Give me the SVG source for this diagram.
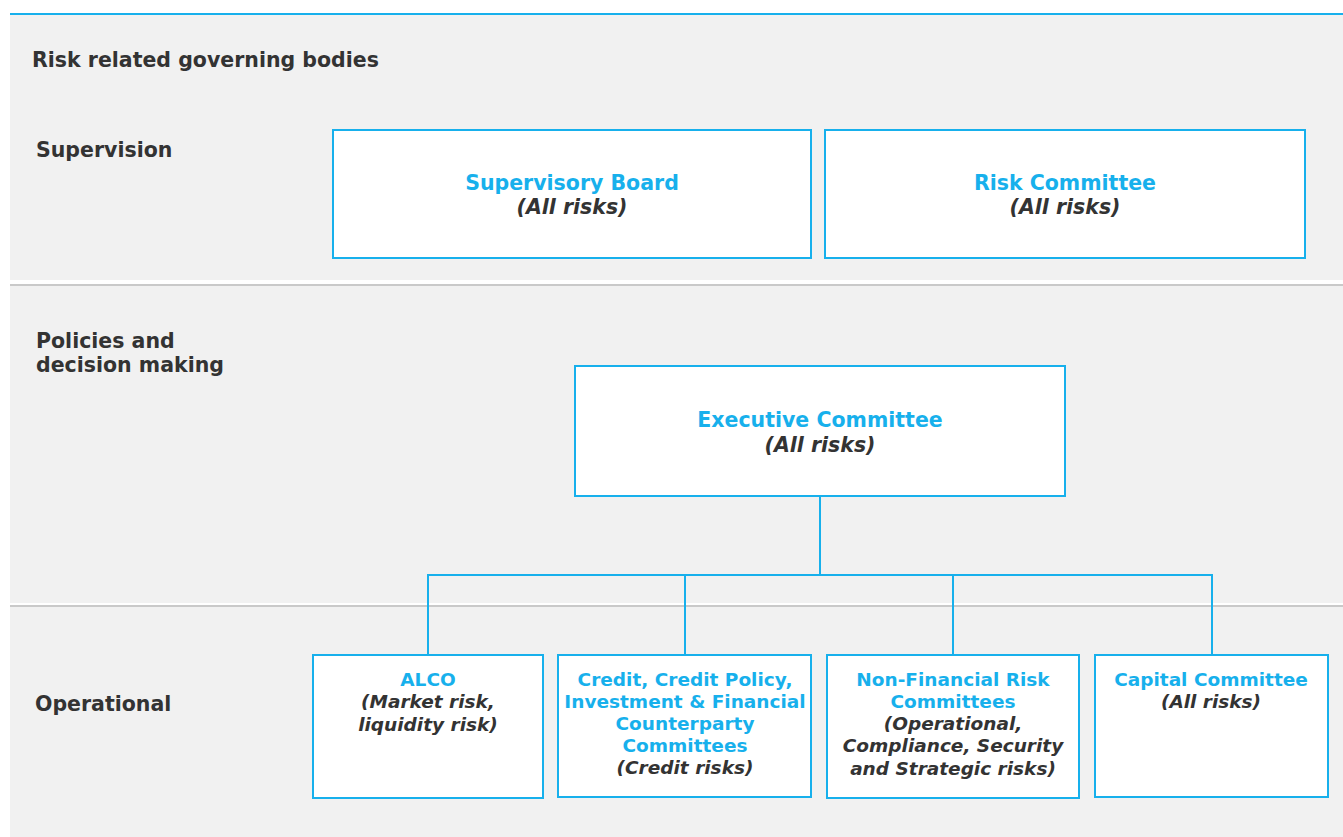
<svg xmlns="http://www.w3.org/2000/svg" width="1343" height="837" viewBox="0 0 1343 837">
  <style>
    .band { fill: #f1f1f1; }
    .rule { stroke: #c9c9c9; stroke-width: 2; }
    .lane { font-family: "DejaVu Sans", Verdana, sans-serif; font-weight: bold; font-size: 20.5px; fill: #333333; }
    .box { fill: #ffffff; stroke: #17b0ec; stroke-width: 2; }
    .title { font-family: "DejaVu Sans", Verdana, sans-serif; font-weight: bold; font-size: 20.5px; fill: #17b0ec; text-anchor: middle; }
    .sub { font-family: "DejaVu Sans", Verdana, sans-serif; font-weight: bold; font-style: italic; font-size: 20.5px; fill: #333333; text-anchor: middle; }
    .small { font-size: 18.5px; }
    .link { fill: none; stroke: #17b0ec; stroke-width: 2; }
  </style>

  <rect width="1343" height="837" fill="#ffffff"/>

  <!-- swim lanes -->
  <g id="lanes">
    <rect class="band" x="10" y="15" width="1333" height="265"/>
    <rect class="band" x="10" y="286" width="1333" height="317"/>
    <rect class="band" x="10" y="607" width="1333" height="230"/>
    <line x1="10" y1="14" x2="1343" y2="14" stroke="#17b0ec" stroke-width="2"/>
    <line class="rule" x1="10" y1="285" x2="1343" y2="285"/>
    <line class="rule" x1="10" y1="606" x2="1343" y2="606"/>
    <text class="lane" x="32" y="67">Risk related governing bodies</text>
    <text class="lane" x="36" y="157">Supervision</text>
    <text class="lane" x="36" y="348">Policies and</text>
    <text class="lane" x="36" y="372">decision making</text>
    <text class="lane" x="35" y="711">Operational</text>
  </g>

  <!-- connectors -->
  <g id="connectors">
    <path class="link" d="M820 496 V575"/>
    <path class="link" d="M428 655 V575 H1212 V655"/>
    <path class="link" d="M685 575 V655"/>
    <path class="link" d="M953 575 V655"/>
  </g>

  <g id="supervisory-board">
    <rect class="box" x="333" y="130" width="478" height="128"/>
    <text class="title" x="572" y="190">Supervisory Board</text>
    <text class="sub" x="572" y="214">(All risks)</text>
  </g>

  <g id="risk-committee">
    <rect class="box" x="825" y="130" width="480" height="128"/>
    <text class="title" x="1065" y="190">Risk Committee</text>
    <text class="sub" x="1065" y="214">(All risks)</text>
  </g>

  <g id="executive-committee">
    <rect class="box" x="575" y="366" width="490" height="130"/>
    <text class="title" x="820" y="427">Executive Committee</text>
    <text class="sub" x="820" y="452">(All risks)</text>
  </g>

  <g id="alco">
    <rect class="box" x="313" y="655" width="230" height="143"/>
    <text class="title small" x="428" y="686">ALCO</text>
    <text class="sub small" x="428" y="708">(Market risk,</text>
    <text class="sub small" x="428" y="731">liquidity risk)</text>
  </g>

  <g id="credit-committees">
    <rect class="box" x="558" y="655" width="253" height="142"/>
    <text class="title small" x="685" y="686">Credit, Credit Policy,</text>
    <text class="title small" x="685" y="708">Investment &amp; Financial</text>
    <text class="title small" x="685" y="730">Counterparty</text>
    <text class="title small" x="685" y="752">Committees</text>
    <text class="sub small" x="685" y="774">(Credit risks)</text>
  </g>

  <g id="non-financial-risk-committees">
    <rect class="box" x="827" y="655" width="252" height="143"/>
    <text class="title small" x="953" y="686">Non-Financial Risk</text>
    <text class="title small" x="953" y="708">Committees</text>
    <text class="sub small" x="953" y="730">(Operational,</text>
    <text class="sub small" x="953" y="752">Compliance, Security</text>
    <text class="sub small" x="953" y="775">and Strategic risks)</text>
  </g>

  <g id="capital-committee">
    <rect class="box" x="1095" y="655" width="233" height="142"/>
    <text class="title small" x="1211" y="686">Capital Committee</text>
    <text class="sub small" x="1211" y="708">(All risks)</text>
  </g>
</svg>
